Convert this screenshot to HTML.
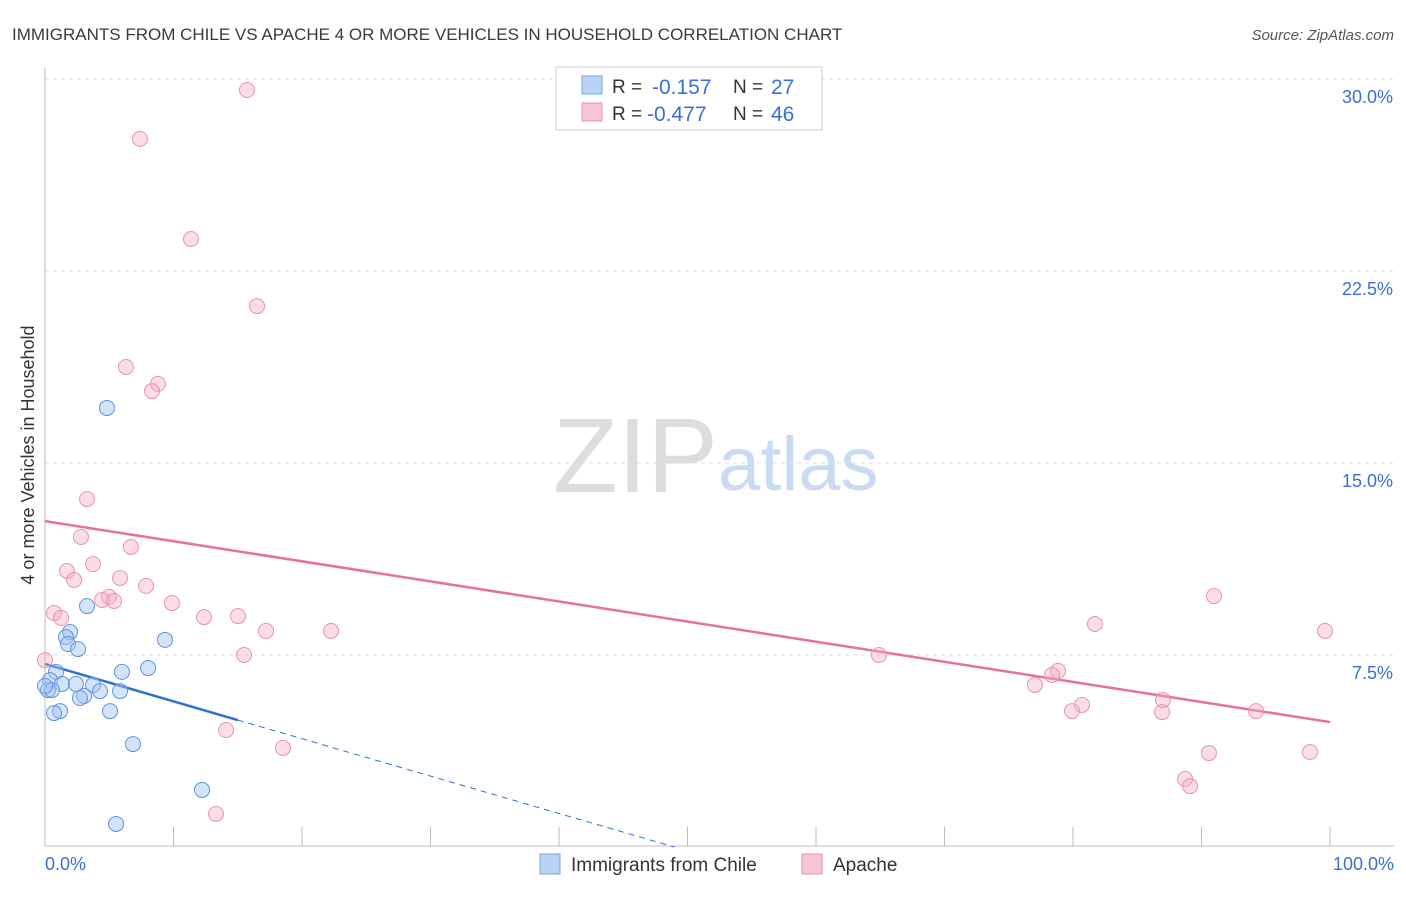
<!DOCTYPE html>
<html><head><meta charset="utf-8"><style>
body{margin:0;background:#fff;font-family:"Liberation Sans",sans-serif}
svg text{font-family:"Liberation Sans",sans-serif}
</style></head><body>
<svg id="c" width="1406" height="892" xmlns="http://www.w3.org/2000/svg">
<text x="12" y="40" font-size="17" fill="#3a3a3a">IMMIGRANTS FROM CHILE VS APACHE 4 OR MORE VEHICLES IN HOUSEHOLD CORRELATION CHART</text>
<text x="1394" y="40" font-size="15" fill="#555" font-style="italic" text-anchor="end">Source: ZipAtlas.com</text>
<text x="553" y="492" font-size="106" fill="#ddd" font-family="Liberation Serif">ZIP</text>
<text x="718" y="490" font-size="76" fill="#c9daf2">atlas</text>
<text transform="translate(34,455) rotate(-90)" font-size="18" fill="#333" text-anchor="middle">4 or more Vehicles in Household</text>
<g id="grid"></g><g id="axes"></g><g id="lines"></g><g id="pts"></g>
<g>
<rect x="556" y="67" width="266" height="63" fill="#fff" stroke="#ccc"/>
<rect x="582" y="76" width="20" height="18" fill="#b8d3f5" stroke="#7aa6e0"/>
<rect x="582" y="103" width="20" height="18" fill="#f8c5d4" stroke="#e993ae"/>
<text x="612" y="93" font-size="19" fill="#333">R = </text><text x="652" y="94" font-size="21" fill="#3b6fd4">-0.157</text>
<text x="733" y="93" font-size="19" fill="#333">N = </text><text x="771" y="94" font-size="21" fill="#3b6fd4">27</text>
<text x="612" y="120" font-size="19" fill="#333">R = </text><text x="647" y="121" font-size="21" fill="#3b6fd4">-0.477</text>
<text x="733" y="120" font-size="19" fill="#333">N = </text><text x="771" y="121" font-size="21" fill="#3b6fd4">46</text>
</g>
<g>
<rect x="540" y="854" width="20" height="20" fill="#b8d3f5" stroke="#7aa6e0"/>
<text x="571" y="871" font-size="19" fill="#333">Immigrants from Chile</text>
<rect x="802" y="854" width="20" height="20" fill="#f8c5d4" stroke="#e993ae"/>
<text x="833" y="871" font-size="19" fill="#333">Apache</text>
</g>
</svg>
<script>
const yTicks=[7.5,15,22.5,30];
const yTickLabels=["7.5%","15.0%","22.5%","30.0%"];
const xTickLabels=["0.0%","100.0%"];
const blueX=[4.82,3.27,1.95,1.63,1.79,2.57,9.34,8.02,5.99,0.86,0.39,1.32,2.41,3.74,0.23,0.54,4.28,5.84,3.04,2.72,5.06,1.17,0.70,6.85,12.22,5.53,0];
const blueY=[17.15,9.41,8.40,8.20,7.93,7.73,8.09,6.99,6.84,6.84,6.52,6.37,6.37,6.33,6.13,6.13,6.09,6.09,5.90,5.82,5.31,5.31,5.23,4.02,2.23,0.90,6.29];
const pinkX=[15.72,7.39,11.36,16.50,6.30,8.79,8.33,3.27,2.80,6.69,3.74,1.71,2.26,5.84,7.86,0.70,1.25,4.98,4.44,5.37,9.88,12.37,15.02,17.20,22.26,15.49,0,14.09,18.52,13.31,64.90,81.71,90.97,99.61,78.83,78.37,77.04,80.70,79.92,87.00,86.93,94.24,90.58,98.44,88.72,89.11];
const pinkY=[29.57,27.66,23.75,21.13,18.75,18.09,17.81,13.59,12.11,11.72,11.05,10.78,10.43,10.51,10.20,9.14,8.95,9.77,9.65,9.61,9.53,8.98,9.02,8.44,8.44,7.50,7.30,4.57,3.87,1.29,7.50,8.71,9.80,8.44,6.88,6.72,6.33,5.55,5.31,5.74,5.27,5.31,3.67,3.71,2.66,2.38];
const blueTrend=[7.15,-0.146];
const pinkTrend=[12.73,-0.0785];
const X=v=>45+v*12.85, Y=v=>847-v*25.6;
const NS="http://www.w3.org/2000/svg";
function mk(t,a,p){const e=document.createElementNS(NS,t);for(const k in a)e.setAttribute(k,a[k]);p.appendChild(e);return e;}
const grid=document.getElementById('grid'),axes=document.getElementById('axes'),lines=document.getElementById('lines'),pts=document.getElementById('pts');
yTicks.forEach((t,i)=>{
 const l=mk('line',{x1:45,x2:1394,y1:Y(t),y2:Y(t),stroke:'#ddd','stroke-dasharray':'4,4'},grid);
 
 
 const tx=mk('text',{x:1393,y:Y(t)+24,'font-size':18,fill:'#3b6fd4','text-anchor':'end'},axes);
 tx.textContent=yTickLabels[i];
 
 
});
const ya=mk('line',{x1:45,x2:45,y1:68,y2:846,stroke:'#bbb'},axes);


const xa=mk('line',{x1:45,x2:1394,y1:846,y2:846,stroke:'#bbb'},axes);


for(let i=0;i<=10;i++){
 const tk=mk('line',{x1:X(i*10),x2:X(i*10),y1:827,y2:846,stroke:'#bbb'},axes);
 
 
}
[[0,'start',45],[100,'end',1394]].forEach((d,i)=>{
 const tx=mk('text',{x:d[2],y:870,'font-size':18,fill:'#3b6fd4','text-anchor':d[1]},axes);
 tx.textContent=xTickLabels[i];
 
 
});
const pl=mk('line',{x1:X(0),y1:Y(pinkTrend[0]),x2:X(100),y2:Y(pinkTrend[0]+pinkTrend[1]*100),stroke:'#e8709a','stroke-width':2.5},lines);


const bz=-blueTrend[0]/blueTrend[1];
const bl=mk('line',{x1:X(0),y1:Y(blueTrend[0]),x2:X(15),y2:Y(blueTrend[0]+blueTrend[1]*15),stroke:'#2f6fd6','stroke-width':2.5},lines);


const bd=mk('line',{x1:X(15),y1:Y(blueTrend[0]+blueTrend[1]*15),x2:X(bz),y2:Y(0),stroke:'#2f6fd6','stroke-width':1,'stroke-dasharray':'6,5'},lines);


pinkX.forEach((x,i)=>{
 const c=mk('circle',{cx:X(x),cy:Y(pinkY[i]),r:7.5,fill:'rgba(244,170,194,0.4)',stroke:'#e993ae','stroke-width':1},pts);
 
 
});
blueX.forEach((x,i)=>{
 const c=mk('circle',{cx:X(x),cy:Y(blueY[i]),r:7.5,fill:'rgba(160,196,240,0.45)',stroke:'#5f93dc','stroke-width':1},pts);
 
 
});
</script>
</body></html>
